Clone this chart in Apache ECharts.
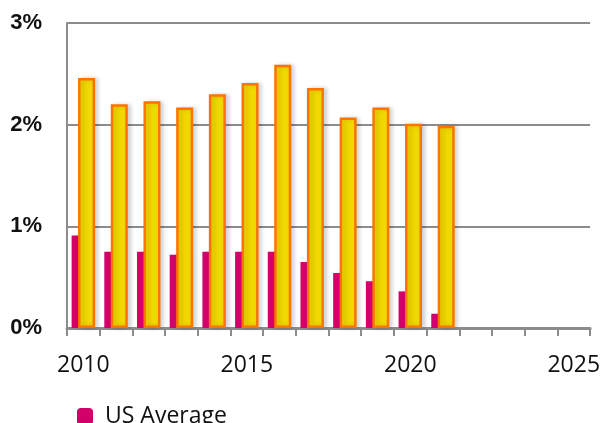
<!DOCTYPE html>
<html>
<head>
<meta charset="utf-8">
<script src="https://cdn.jsdelivr.net/npm/echarts@6/dist/echarts.min.js"></script>
<style>
html,body{margin:0;padding:0;background:#fff;}
#chart{width:603px;height:423px;}
</style>
</head>
<body>
<div id="chart"></div>
<script>
var years = ['2010','2011','2012','2013','2014','2015','2016','2017','2018','2019','2020','2021','2022','2023','2024','2025'];
var usAverage = [0.91,0.75,0.75,0.72,0.75,0.75,0.75,0.65,0.54,0.46,0.36,0.14,null,null,null,null];
var localRate = [2.46,2.20,2.23,2.17,2.30,2.41,2.59,2.36,2.07,2.17,2.01,1.99,null,null,null,null];
var yTicks = [0,1,2,3];

var chart = echarts.init(document.getElementById('chart'));
chart.setOption({
  animation: false,
  backgroundColor: '#ffffff',
  grid: {left: 67, right: 11, top: 23, bottom: 95, containLabel: false},
  legend: {
    data: ['US Average'],
    left: 72, top: 400,
    itemWidth: 16, itemHeight: 17,
    icon: 'roundRect',
    textStyle: {fontFamily: 'Open Sans', fontSize: 23, color: '#111', padding: [0,0,0,7]}
  },
  xAxis: {
    type: 'category',
    data: years,
    boundaryGap: true,
    axisLine: {lineStyle: {color: '#8c8c8c', width: 3}},
    axisTick: {show: true, interval: 0, length: 8, lineStyle: {color: '#8c8c8c', width: 2}},
    axisLabel: {interval: 4, margin: 26, fontFamily: 'Open Sans', fontSize: 23, color: '#111'},
    splitLine: {show: false}
  },
  yAxis: {
    type: 'value',
    min: yTicks[0], max: yTicks[yTicks.length-1], interval: 1,
    axisLine: {show: true, lineStyle: {color: '#8c8c8c', width: 2}},
    axisTick: {show: false},
    axisLabel: {formatter: '{value}%', margin: 25, fontFamily: 'Liberation Sans', fontWeight: 'bold', fontSize: 22, color: '#111'},
    splitLine: {lineStyle: {color: '#8c8c8c', width: 2}}
  },
  series: [
    {
      name: 'US Average', type: 'bar', data: usAverage,
      barWidth: 17, barGap: '-62%',
      itemStyle: {color: '#d4006a', shadowColor: 'rgba(0,0,0,0.12)', shadowBlur: 4, shadowOffsetX: 3}
    },
    {
      name: 'Local', type: 'bar', data: localRate,
      barWidth: 17,
      itemStyle: {color: '#f0d800', borderColor: '#ff7400', borderWidth: 2.5, shadowColor: 'rgba(0,0,0,0.15)', shadowBlur: 4, shadowOffsetX: 3}
    }
  ]
});
</script>
</body>
</html>
